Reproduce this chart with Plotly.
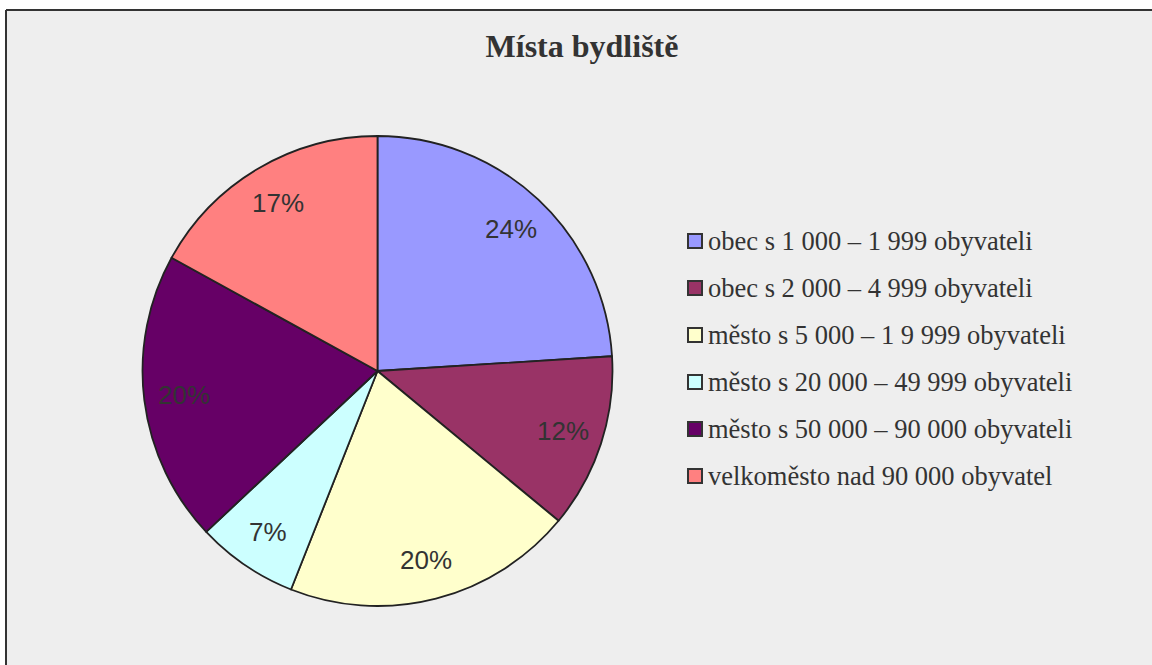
import math
import plotly.graph_objects as go

# ---- data ----
categories = [
    "obec s 1 000 – 1 999 obyvateli",
    "obec s 2 000 – 4 999 obyvateli",
    "město s 5 000 – 1 9 999 obyvateli",
    "město s 20 000 – 49 999 obyvateli",
    "město s 50 000 – 90 000 obyvateli",
    "velkoměsto nad 90 000 obyvatel",
]
values = [24, 12, 20, 7, 20, 17]
colors = ["#9999FF", "#993366", "#FFFFCC", "#CCFFFF", "#660066", "#FF8080"]
title_text = "Místa bydliště"

W, H = 1152, 665
# pie geometry (pixels)
CX, CY, R = 377.5, 371, 235

fig = go.Figure()
fig.add_trace(go.Pie(
    labels=categories,
    values=values,
    sort=False,
    direction="clockwise",
    rotation=0,
    marker=dict(colors=colors, line=dict(color="#222222", width=1.8)),
    textinfo="none",
    hoverinfo="label+percent",
    showlegend=False,
    domain=dict(x=[(CX - R) / W, (CX + R) / W], y=[(H - CY - R) / H, (H - CY + R) / H]),
))

annotations = []
shapes = []

# background panel (fill) and its visible top/left border
bx0, by1 = 6 / W, 1 - 10 / H
shapes.append(dict(type="rect", xref="paper", yref="paper",
                   x0=bx0, x1=1.0, y0=0.0, y1=by1,
                   fillcolor="#EEEEEE", line=dict(width=0), layer="below"))
shapes.append(dict(type="line", xref="paper", yref="paper",
                   x0=bx0, x1=1.0, y0=by1, y1=by1,
                   line=dict(color="#333333", width=2), layer="below"))
shapes.append(dict(type="line", xref="paper", yref="paper",
                   x0=bx0, x1=bx0, y0=0.0, y1=by1,
                   line=dict(color="#333333", width=2), layer="below"))

# percentage labels computed from slice angles
total = sum(values)
cum = 0
for v in values:
    mid = (cum + v / 2) / total * 2 * math.pi
    cum += v
    rr = 0.83 * R
    px = CX + rr * math.sin(mid)
    py = CY - rr * math.cos(mid)
    annotations.append(dict(x=px / W, y=1 - py / H, xref="paper", yref="paper",
                            text=f"{round(v / total * 100)}%", showarrow=False,
                            xanchor="center", yanchor="middle",
                            font=dict(family="Liberation Sans, Arial", size=26, color="#333333")))

# legend (manual for exact spacing)
leg_x_box = 688
leg_box = 14
leg_y0 = 241
leg_dy = 47
for i, (lab, col) in enumerate(zip(categories, colors)):
    yc = leg_y0 + i * leg_dy
    shapes.append(dict(type="rect", xref="paper", yref="paper",
                       x0=leg_x_box / W, x1=(leg_x_box + leg_box) / W,
                       y0=1 - (yc + leg_box / 2) / H, y1=1 - (yc - leg_box / 2) / H,
                       fillcolor=col, line=dict(color="#333333", width=2)))
    annotations.append(dict(x=(leg_x_box + leg_box + 4) / W, y=1 - yc / H, xref="paper", yref="paper",
                            text=lab, showarrow=False, xanchor="left", yanchor="middle",
                            font=dict(family="Liberation Serif, Times New Roman", size=26.5, color="#333333")))

fig.update_layout(
    width=W, height=H,
    margin=dict(l=0, r=0, t=0, b=0),
    paper_bgcolor="white",
    plot_bgcolor="white",
    title=dict(text=f"<b>{title_text}</b>", x=582 / W, xanchor="center",
               y=1 - 46 / H, yanchor="middle", yref="paper",
               font=dict(family="Liberation Serif, Times New Roman", size=32, color="#333333")),
    shapes=shapes,
    annotations=annotations,
)

fig.write_html(
    "out.html", config={"displayModeBar": False},
    post_script=("document.body.style.margin='0px';document.body.style.overflow='hidden';"
                 "document.documentElement.style.overflow='hidden';"),
)
